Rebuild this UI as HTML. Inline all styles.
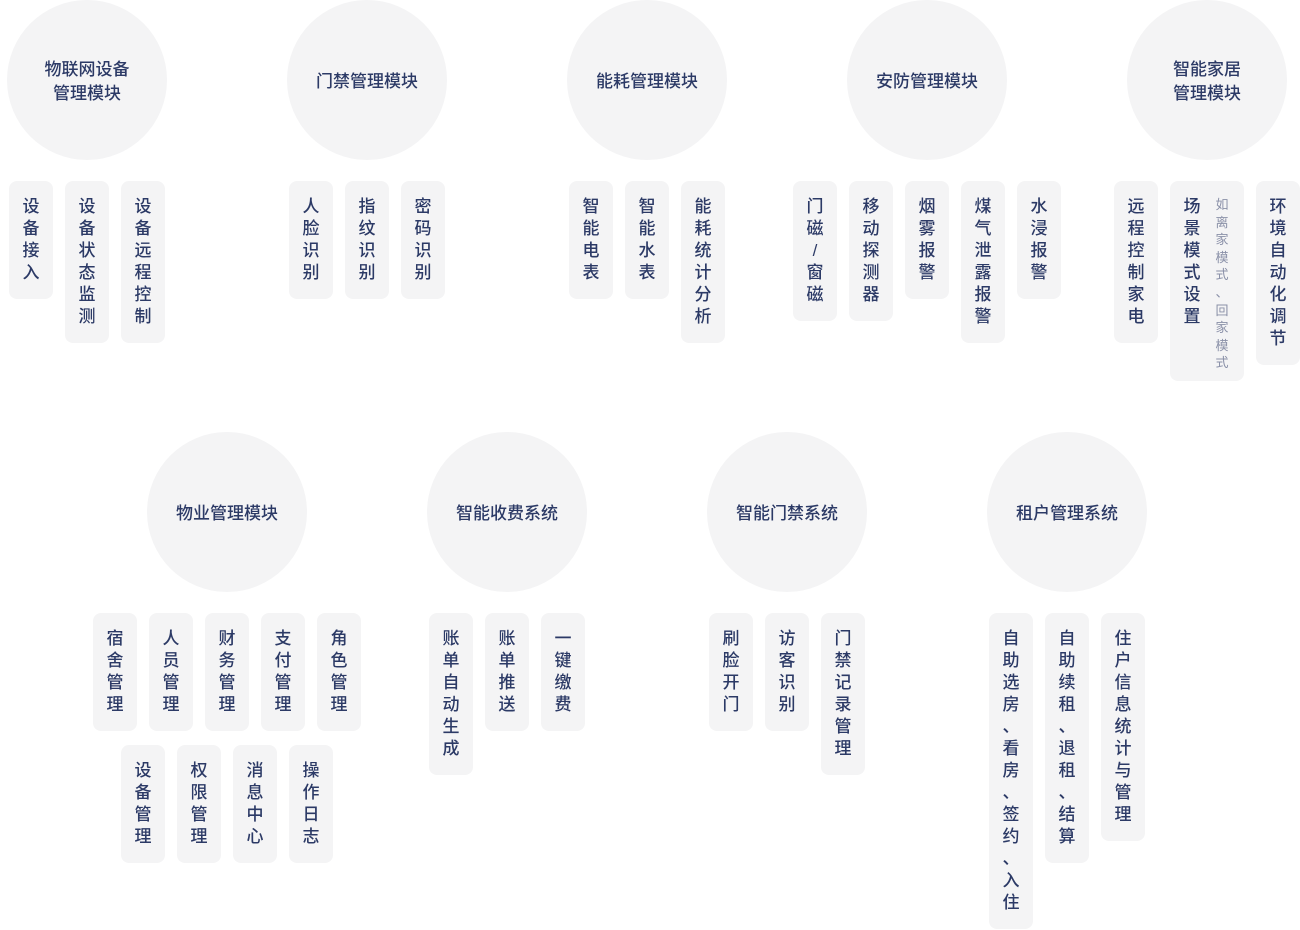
<!DOCTYPE html>
<html><head><meta charset="utf-8"><style>
body{margin:0;width:1300px;height:930px;background:#fff;position:relative;overflow:hidden;font-family:"Liberation Sans","Noto Sans CJK SC",sans-serif;color:#2c3a66}
.c{position:absolute;width:160px;height:160px;border-radius:50%;background:#f4f4f5;display:flex;align-items:center;justify-content:center;text-align:center;font-size:17px;font-weight:500;line-height:24px;box-sizing:border-box;padding-top:3px}
.k{position:absolute;width:44px;background:#f4f4f5;border-radius:8px;box-sizing:border-box;padding-top:15px}
.k span{display:block;width:22px;margin:0 auto;font-size:17px;font-weight:500;line-height:22px;text-align:center}
.k i,.n i{display:block;font-style:normal}
.n{position:absolute;font-size:13px;color:#8a90a8;width:16px;line-height:17.6px;text-align:center}
</style></head><body>
<div class="c" style="left:7px;top:0">物联网设备<br>管理模块</div>
<div class="c" style="left:287px;top:0">门禁管理模块</div>
<div class="c" style="left:567px;top:0">能耗管理模块</div>
<div class="c" style="left:847px;top:0">安防管理模块</div>
<div class="c" style="left:1127px;top:0">智能家居<br>管理模块</div>
<div class="c" style="left:147px;top:432px">物业管理模块</div>
<div class="c" style="left:427px;top:432px">智能收费系统</div>
<div class="c" style="left:707px;top:432px">智能门禁系统</div>
<div class="c" style="left:987px;top:432px">租户管理系统</div>

<div class="k" style="left:9px;top:181px;height:118px"><span><i>设</i><i>备</i><i>接</i><i>入</i></span></div>
<div class="k" style="left:65px;top:181px;height:162px"><span><i>设</i><i>备</i><i>状</i><i>态</i><i>监</i><i>测</i></span></div>
<div class="k" style="left:121px;top:181px;height:162px"><span><i>设</i><i>备</i><i>远</i><i>程</i><i>控</i><i>制</i></span></div>
<div class="k" style="left:289px;top:181px;height:118px"><span><i>人</i><i>脸</i><i>识</i><i>别</i></span></div>
<div class="k" style="left:345px;top:181px;height:118px"><span><i>指</i><i>纹</i><i>识</i><i>别</i></span></div>
<div class="k" style="left:401px;top:181px;height:118px"><span><i>密</i><i>码</i><i>识</i><i>别</i></span></div>
<div class="k" style="left:569px;top:181px;height:118px"><span><i>智</i><i>能</i><i>电</i><i>表</i></span></div>
<div class="k" style="left:625px;top:181px;height:118px"><span><i>智</i><i>能</i><i>水</i><i>表</i></span></div>
<div class="k" style="left:681px;top:181px;height:162px"><span><i>能</i><i>耗</i><i>统</i><i>计</i><i>分</i><i>析</i></span></div>
<div class="k" style="left:793px;top:181px;height:140px"><span><i>门</i><i>磁</i><i>/</i><i>窗</i><i>磁</i></span></div>
<div class="k" style="left:849px;top:181px;height:140px"><span><i>移</i><i>动</i><i>探</i><i>测</i><i>器</i></span></div>
<div class="k" style="left:905px;top:181px;height:118px"><span><i>烟</i><i>雾</i><i>报</i><i>警</i></span></div>
<div class="k" style="left:961px;top:181px;height:162px"><span><i>煤</i><i>气</i><i>泄</i><i>露</i><i>报</i><i>警</i></span></div>
<div class="k" style="left:1017px;top:181px;height:118px"><span><i>水</i><i>浸</i><i>报</i><i>警</i></span></div>
<div class="k" style="left:1114px;top:181px;height:162px"><span><i>远</i><i>程</i><i>控</i><i>制</i><i>家</i><i>电</i></span></div>
<div class="k" style="left:1170px;top:181px;height:200px;width:74px"><span style="margin:0 0 0 11px"><i>场</i><i>景</i><i>模</i><i>式</i><i>设</i><i>置</i></span></div>
<div class="n" style="left:1214px;top:196px"><i>如</i><i>离</i><i>家</i><i>模</i><i>式</i><i>、</i><i>回</i><i>家</i><i>模</i><i>式</i></div>
<div class="k" style="left:1256px;top:181px;height:184px"><span><i>环</i><i>境</i><i>自</i><i>动</i><i>化</i><i>调</i><i>节</i></span></div>

<div class="k" style="left:93px;top:613px;height:118px"><span><i>宿</i><i>舍</i><i>管</i><i>理</i></span></div>
<div class="k" style="left:149px;top:613px;height:118px"><span><i>人</i><i>员</i><i>管</i><i>理</i></span></div>
<div class="k" style="left:205px;top:613px;height:118px"><span><i>财</i><i>务</i><i>管</i><i>理</i></span></div>
<div class="k" style="left:261px;top:613px;height:118px"><span><i>支</i><i>付</i><i>管</i><i>理</i></span></div>
<div class="k" style="left:317px;top:613px;height:118px"><span><i>角</i><i>色</i><i>管</i><i>理</i></span></div>
<div class="k" style="left:121px;top:745px;height:118px"><span><i>设</i><i>备</i><i>管</i><i>理</i></span></div>
<div class="k" style="left:177px;top:745px;height:118px"><span><i>权</i><i>限</i><i>管</i><i>理</i></span></div>
<div class="k" style="left:233px;top:745px;height:118px"><span><i>消</i><i>息</i><i>中</i><i>心</i></span></div>
<div class="k" style="left:289px;top:745px;height:118px"><span><i>操</i><i>作</i><i>日</i><i>志</i></span></div>
<div class="k" style="left:429px;top:613px;height:162px"><span><i>账</i><i>单</i><i>自</i><i>动</i><i>生</i><i>成</i></span></div>
<div class="k" style="left:485px;top:613px;height:118px"><span><i>账</i><i>单</i><i>推</i><i>送</i></span></div>
<div class="k" style="left:541px;top:613px;height:118px"><span><i>一</i><i>键</i><i>缴</i><i>费</i></span></div>
<div class="k" style="left:709px;top:613px;height:118px"><span><i>刷</i><i>脸</i><i>开</i><i>门</i></span></div>
<div class="k" style="left:765px;top:613px;height:118px"><span><i>访</i><i>客</i><i>识</i><i>别</i></span></div>
<div class="k" style="left:821px;top:613px;height:162px"><span><i>门</i><i>禁</i><i>记</i><i>录</i><i>管</i><i>理</i></span></div>
<div class="k" style="left:989px;top:613px;height:316px"><span><i>自</i><i>助</i><i>选</i><i>房</i><i>、</i><i>看</i><i>房</i><i>、</i><i>签</i><i>约</i><i>、</i><i>入</i><i>住</i></span></div>
<div class="k" style="left:1045px;top:613px;height:250px"><span><i>自</i><i>助</i><i>续</i><i>租</i><i>、</i><i>退</i><i>租</i><i>、</i><i>结</i><i>算</i></span></div>
<div class="k" style="left:1101px;top:613px;height:228px"><span><i>住</i><i>户</i><i>信</i><i>息</i><i>统</i><i>计</i><i>与</i><i>管</i><i>理</i></span></div>
</body></html>
